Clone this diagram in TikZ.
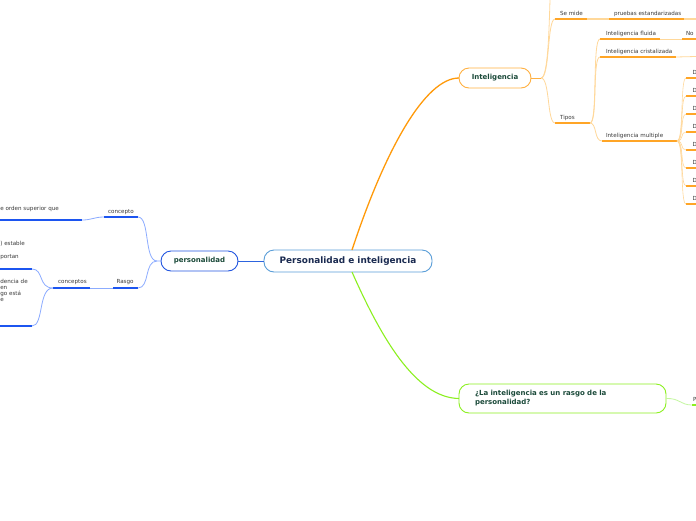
\documentclass[tikz,border=0pt]{standalone}
\usepackage{fontspec}
\setmainfont{DejaVu Sans}
\definecolor{orM}{HTML}{FF9A0A}
\definecolor{orU}{HTML}{FFA526}
\definecolor{orC}{HTML}{FFD89A}
\definecolor{orB}{HTML}{FFB040}
\definecolor{blU}{HTML}{1C55F0}
\definecolor{blC}{HTML}{8CACFF}
\definecolor{blB}{HTML}{2255E0}
\definecolor{blCen}{HTML}{5A9ED8}
\definecolor{grM}{HTML}{8CF020}
\definecolor{grC}{HTML}{C4F7A0}
\definecolor{txG}{HTML}{1B4A3A}
\definecolor{txN}{HTML}{1A2A50}
\definecolor{txS}{HTML}{3A3A3A}
\begin{document}
\begin{tikzpicture}[x=1pt,y=-1pt,
  every node/.style={inner sep=0pt,outer sep=0pt},
  lbl/.style={font=\fontsize{5.6}{6.6}\selectfont,text=txS,anchor=base west},
  ol/.style={draw=orU,line width=1.4pt},
  oc/.style={draw=orC,line width=0.8pt},
  bl/.style={draw=blU,line width=1.4pt},
  bc/.style={draw=blC,line width=0.8pt},
  gl/.style={draw=grM,line width=1.4pt},
  gc/.style={draw=grC,line width=0.8pt},
  topic/.style={rounded corners=10pt,line width=0.9pt,font=\bfseries\fontsize{7}{9}\selectfont,text=txG},
]
\useasboundingbox[fill=white] (0,0) rectangle (696,520);

% ---- central
\node[draw=blCen,rounded corners=10pt,line width=0.9pt,minimum width=168pt,minimum height=22pt,
  font=\bfseries\fontsize{8.9}{10}\selectfont,text=txN] (c) at (348,261) {Personalidad e inteligencia};
\coordinate (cT) at (352,250);
\coordinate (cB) at (352,272);

% ---- personalidad
\node[topic,draw=blB,minimum width=77pt,minimum height=20pt] (p) at (199.5,261) {personalidad};
\draw[draw=blB!80!blCen,line width=0.8pt] (c.west) -- (p.east);

\node[lbl] (tconc) at (108,213) {concepto};
\coordinate (concL) at (104,217); \coordinate (concR) at (138,217);
\draw[bl] (concL) -- (concR);
\node[lbl] (trasgo) at (116.5,283) {Rasgo};
\coordinate (rasL) at (113,288); \coordinate (rasR) at (138,288);
\draw[bl] (rasL) -- (rasR);
\draw[bc] (p.west) -- (157,261) .. controls (144,261) and (150,217) .. (concR);
\draw[bc] (157,261) .. controls (144,261) and (150,288) .. (rasR);

\node[lbl] (tsup) at (0.3,210) {e orden superior que};
\coordinate (supR) at (82,220); \coordinate (supL) at (0,220);
\draw[bl] (supL) -- (supR);
\draw[bc] (supR) .. controls (92,220) and (94,217) .. (concL);

\node[lbl] (tcpt) at (58,283) {conceptos};
\coordinate (cptL) at (53,288); \coordinate (cptR) at (90,288);
\draw[bl] (cptL) -- (cptR);
\draw[bc] (rasL) -- (cptR);

\node[lbl] (test) at (0.3,245) {) estable};
\node[lbl] (tport) at (0.3,258) {portan};
\coordinate (eL) at (0,269); \coordinate (eR) at (32,269);
\draw[bl] (eL) -- (eR);
\node[lbl] (tden) at (0.3,283) {dencia de};
\node[lbl] (ten) at (0.3,289.3) {en};
\node[lbl] (tgo) at (0.3,295.6) {go está};
\node[lbl] (te) at (0.3,301.9) {e};
\coordinate (dL) at (0,326); \coordinate (dR) at (32,326);
\draw[bl] (dL) -- (dR);
\draw[bc] (cptL) .. controls (38,288) and (44,269) .. (eR);
\draw[bc] (cptL) .. controls (38,288) and (44,326) .. (dR);

% ---- Inteligencia
\node[topic,draw=orB,minimum width=72pt,minimum height=20pt] (i) at (495,78) {Inteligencia};
\draw[draw=orM,line width=1.3pt] (cT) .. controls (385,150) and (425,78) .. (i.west);

\coordinate (ij) at (541,78);
\draw[draw=orB,line width=0.8pt] (i.east) -- (ij);
\coordinate (top) at (550,0);
\draw[oc] (ij) .. controls (548,78) and (549,30) .. (top);

\node[lbl] (tsem) at (560,15) {Se mide};
\coordinate (semL) at (555,19); \coordinate (semR) at (587,19);
\draw[ol] (semL) -- (semR);
\draw[oc] (ij) .. controls (550,78) and (547,19) .. (semL);
\node[lbl] (tprue) at (614,15) {pruebas estandarizadas};
\coordinate (prL) at (609,19); \coordinate (prR) at (684,19);
\draw[oc,line width=1.4pt] (semR) -- (prL);
\draw[ol] (prL) -- (prR);
\coordinate (prX) at (696,19);
\draw[oc,line width=1.4pt] (prR) -- (prX);

\node[lbl] (ttip) at (560,119) {Tipos};
\coordinate (tipL) at (555,123); \coordinate (tipR) at (590,123);
\draw[ol] (tipL) -- (tipR);
\draw[oc] (ij) .. controls (550,78) and (547,123) .. (tipL);

\node[lbl] (tflu) at (606,35) {Inteligencia fluida};
\coordinate (fluL) at (600,39); \coordinate (fluR) at (660,39);
\draw[ol] (fluL) -- (fluR);
\node[lbl] (tno) at (686,35) {No};
\coordinate (noL) at (682,39); \coordinate (noR) at (696,39);
\draw[ol] (noL) -- (noR);
\draw[oc] (fluR) -- (noL);

\node[lbl] (tcri) at (606,53) {Inteligencia cristalizada};
\coordinate (criL) at (600,57); \coordinate (criR) at (676,57);
\draw[ol] (criL) -- (criR);
\coordinate (criX) at (696,56.5);
\draw[oc] (criR) -- (criX);

\node[lbl] (tmul) at (606,137) {Inteligencia multiple};
\coordinate (mulL) at (602,141); \coordinate (mulR) at (677,141);
\draw[ol] (mulL) -- (mulR);

\draw[oc] (tipR) .. controls (598,123) and (592,39) .. (fluL);
\draw[oc] (tipR) .. controls (598,123) and (592,57) .. (criL);
\draw[oc] (tipR) .. controls (597,123) and (594,141) .. (mulL);

\foreach \k/\yy in {1/72,2/90,3/108,4/126,5/144,6/162,7/180,8/198}{
  \node[lbl] (d\k) at (692.5,\yy+2.5) {D};
  \coordinate (dl\k) at (686,\yy+6);
  \coordinate (dr\k) at (696,\yy+6);
  \draw[ol] (dl\k) -- (dr\k);
  \draw[oc,line width=0.6pt] (mulR) .. controls (684,141) and (680,\yy+6) .. (dl\k);
}

% ---- question
\node[topic,draw=grM,minimum width=207pt,minimum height=29pt,text width=175pt,align=left] (q) at (562.5,398.5) {¿La inteligencia es un rasgo de la\\personalidad?};
\draw[draw=grM,line width=1.1pt] (cB) .. controls (380,335) and (415,398) .. (q.west);
\node[lbl] (tP) at (693,401) {P};
\coordinate (pL) at (692,405); \coordinate (pR) at (696,405);
\draw[gl] (pL) -- (pR);
\draw[gc] (q.east) .. controls (680,398) and (680,405) .. (pL);
\end{tikzpicture}
\end{document}
